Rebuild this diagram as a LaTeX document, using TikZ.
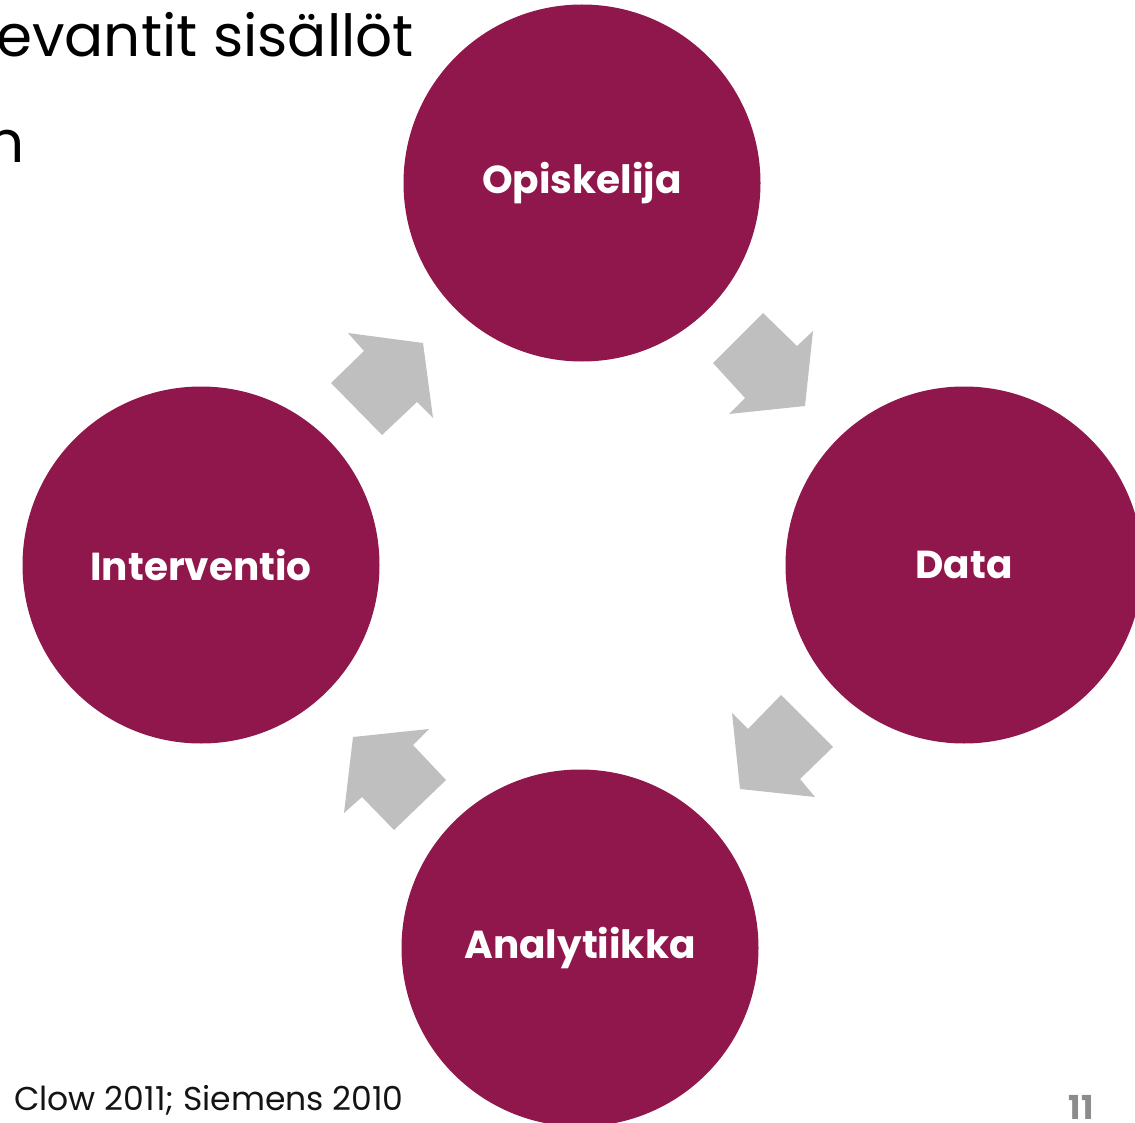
\documentclass[tikz,border=0pt]{standalone}
\usepackage{fontspec}
\setmainfont{Poppins}
\definecolor{cyclemaroon}{RGB}{144,23,75}
\definecolor{arrowgray}{RGB}{191,191,191}
\definecolor{pagegray}{RGB}{140,140,140}
\definecolor{foottext}{RGB}{20,20,20}
\begin{document}
\begin{tikzpicture}[x=1pt,y=-1pt,
  cyc/.style={circle, fill=cyclemaroon, minimum size=357pt, inner sep=0pt,
    text=white, font=\fontsize{39}{47}\selectfont\bfseries},
  blockarrow/.style={fill=arrowgray, draw=none},
  titletext/.style={inner sep=0pt, text=black, font=\fontsize{58}{70}\selectfont}]
\useasboundingbox (0,0) rectangle (1135,1123);
\node[cyc] (op) at (582,183) {Opiskelija};
\node[cyc] (da) at (964,565) {Data};
\node[cyc] (an) at (580,948) {Analytiikka};
\node[cyc] (in) at (201,565) {Interventio};
% block arrows of the cycle
\fill[blockarrow] (763,313) -- (797,346) -- (813,331) -- (805,406) -- (729,414) -- (745,398) -- (713,363) -- cycle;
\fill[blockarrow] (781,695) -- (833,747) -- (800,779) -- (815,797) -- (740,789) -- (732,713) -- (748,729) -- cycle;
\fill[blockarrow] (353,737) -- (429,729) -- (413,745) -- (446,780) -- (394,830) -- (362,797) -- (344,813) -- cycle;
\fill[blockarrow] (348,333) -- (423,343) -- (433,418) -- (417,402) -- (382,435) -- (331,383) -- (364,351) -- cycle;
% title fragments
\node[titletext, anchor=base west] (t1) at (-4,57) {evantit sisällöt};
\node[titletext, anchor=base east] (t2) at (25,163) {n};
% footer
\node[inner sep=0pt, anchor=base west, text=foottext, font=\fontsize{33}{40}\selectfont] (src) at (14,1110) {Clow 2011; Siemens 2010};
\node[inner sep=0pt, anchor=base, text=pagegray, font=\fontsize{33}{38}\selectfont\bfseries] (pg) at (1081,1119) {11};
\end{tikzpicture}
\end{document}
